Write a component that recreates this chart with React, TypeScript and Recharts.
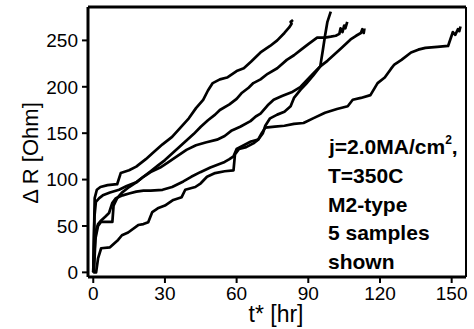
import React from 'react';
import { LineChart, Line, XAxis, YAxis, Customized } from 'recharts';

const FONT = '"Liberation Sans", Arial, Helvetica, sans-serif';

const xTicks = [0, 30, 60, 90, 120, 150];
const yTicks = [0, 50, 100, 150, 200, 250];

const aT = [0, 0.6, 1.5, 3, 6, 10, 11.5, 15, 18, 22, 25, 29, 33, 36.5, 40, 43, 46, 48, 50, 53, 56, 60, 63, 66, 70, 74, 77, 80, 82, 83, 82.6, 83.6];
const aR = [0, 80, 89, 92, 94, 95, 107, 110, 114, 122, 129, 138, 146, 156, 166, 177, 186, 196, 204, 208, 210, 217, 220, 227, 237, 244, 250, 258, 264, 268, 270, 272];

const bT = [0, 0.5, 1.1, 2.5, 4, 7, 10.8, 14, 18, 21, 24, 27, 30, 33, 36, 39, 42, 45, 48, 51, 53, 57, 60, 62, 65, 67, 70, 73, 77, 81, 84, 87, 90, 93.7, 97, 99.4, 101.5, 103, 103.5, 104.3, 105, 105.5, 106.3];
const bR = [0, 60, 76, 80, 83, 86, 89, 93, 97, 103, 109, 115, 121, 128, 135, 142, 149, 157, 164, 170, 175, 181, 187, 193, 199, 204, 208, 214, 220, 229, 234, 240, 246, 253, 253, 254, 255, 257, 263, 259, 266, 263, 270];

const cT = [0, 0.8, 2, 3.3, 8, 8.5, 10, 12, 15, 18, 21, 24, 28, 31, 35, 39, 43, 47, 51.8, 55, 58, 61.5, 65.8, 68, 70, 73, 75.5, 79, 83, 86.8, 89, 92, 95, 98, 101, 104, 107.7, 110, 112, 112.6, 113.2, 113.5];
const cR = [0, 35, 50, 54.5, 54.5, 72, 80, 86, 92, 97, 103, 108, 113, 118, 125, 132, 137, 140, 143, 147, 153, 157, 163, 168, 171, 180, 186, 190, 194, 200, 206, 214, 222, 228, 235, 242, 251, 255, 258, 262, 258, 263];

const sT = [0.3, 0.8, 1.1, 2, 3.3, 5, 6.6, 8, 9.5, 12.3, 15, 18, 21, 24, 29, 33, 37.7, 41, 44.8, 49, 52, 55, 57, 58.7, 60, 63, 66, 69, 71, 72, 74, 77, 80, 82.6, 84, 86.8, 89, 92, 95, 96, 97, 98, 99.4];
const sR = [0, 30, 45, 52, 56, 60, 64, 75, 80, 83, 85, 87, 88, 88, 89, 92, 98, 103, 108, 113, 116, 119, 122, 125, 133, 137, 141, 143, 150, 158, 166, 170, 173, 179, 188, 197, 203, 212, 222, 238, 255, 270, 281];

const dT = [0, 1.2, 2, 3.3, 7, 10.4, 12, 14.6, 18.8, 21, 23, 24.7, 27, 30, 33.5, 37, 38.5, 42.7, 45, 47.6, 51, 55, 58.7, 59.3, 61, 64, 67, 69, 70.5, 72, 76, 80, 84, 88, 92, 97, 102, 106.5, 108.6, 112, 116, 119, 122, 124.5, 126, 129, 133, 136, 139, 144, 148.5, 150.5, 151.5, 152.6, 153.2, 153.7];
const dR = [0, 0, 15, 26, 27, 35, 40, 43, 51, 52, 54, 65, 69, 72, 78, 81, 89, 92, 96, 103, 107, 109, 110, 127, 133, 135, 139, 143, 150, 156, 157, 158, 160, 161, 166, 172, 176, 179, 186, 188, 191, 204, 210, 219, 224, 229, 237, 240, 242, 243, 244, 259, 256, 262, 260, 265];

const annotation = ['T=350C', 'M2-type', '5 samples', 'shown'];

const build = (t: number[], r: number[]) => t.map((v, i) => ({ t: v, r: r[i] }));

const series = [build(aT, aR), build(bT, bR), build(cT, cR), build(sT, sR), build(dT, dR)];

const boldStyle = { fontFamily: FONT, fontSize: 21, fontWeight: 'bold' as const, fill: '#000' };

const Texts = () => (
  <g>
    <text
      x={30}
      y={153}
      transform="rotate(-90 30 153)"
      textAnchor="middle"
      dominantBaseline="central"
      fill="#000"
      style={{ fontFamily: FONT, fontSize: 22, fill: '#000' }}
    >
      Δ R [Ohm]
    </text>
    <text x={276} y={322} textAnchor="middle" fill="#000" style={{ fontFamily: FONT, fontSize: 23, fill: '#000' }}>
      t* [hr]
    </text>
    <text x={329} y={154} fill="#000" style={boldStyle}>
      j=2.0MA/cm<tspan fontSize={12} dy={-10}>2</tspan><tspan dy={10}>,</tspan>
    </text>
    {annotation.map((s, i) => (
      <text key={s} x={328} y={183 + i * 28.5} fill="#000" style={boldStyle}>
        {s}
      </text>
    ))}
  </g>
);

export default function App() {
  const tickStyle = { fontFamily: FONT, fontSize: 19, fill: '#000' };
  return (
    <div style={{ position: 'absolute', left: 0, top: 0, background: '#fff' }}>
      <LineChart width={474} height={329} margin={{ top: 7, right: 8, bottom: 0, left: 0 }}>
        <XAxis
          dataKey="t"
          type="number"
          domain={[-2.2, 156]}
          ticks={xTicks}
          interval={0}
          allowDataOverflow
          height={52}
          tickSize={6}
          tickMargin={4}
          tick={tickStyle}
          axisLine={{ stroke: '#000', strokeWidth: 3 }}
          tickLine={{ stroke: '#000', strokeWidth: 2 }}
        />
        <XAxis
          xAxisId="top"
          orientation="top"
          dataKey="t"
          type="number"
          domain={[-2.2, 156]}
          ticks={xTicks}
          interval={0}
          allowDataOverflow
          height={1}
          mirror
          tickSize={3}
          tick={false}
          axisLine={{ stroke: '#000', strokeWidth: 3 }}
          tickLine={{ stroke: '#000', strokeWidth: 1.5 }}
        />
        <YAxis
          type="number"
          domain={[-5, 286]}
          ticks={yTicks}
          interval={0}
          allowDataOverflow
          width={88}
          tickSize={6}
          tickMargin={4}
          tick={tickStyle}
          axisLine={{ stroke: '#000', strokeWidth: 3 }}
          tickLine={{ stroke: '#000', strokeWidth: 2 }}
        />
        <YAxis
          yAxisId="right"
          orientation="right"
          type="number"
          domain={[-5, 286]}
          ticks={yTicks}
          interval={0}
          allowDataOverflow
          width={1}
          mirror
          tickSize={4}
          tick={false}
          axisLine={{ stroke: '#000', strokeWidth: 2 }}
          tickLine={{ stroke: '#000', strokeWidth: 2 }}
        />
        {series.map((d, i) => (
          <Line
            key={i}
            data={d}
            dataKey="r"
            type="linear"
            stroke="#000"
            strokeWidth={2.7}
            strokeLinejoin="round"
            dot={false}
            activeDot={false}
            isAnimationActive={false}
          />
        ))}
        <Customized component={Texts} />
      </LineChart>
    </div>
  );
}
